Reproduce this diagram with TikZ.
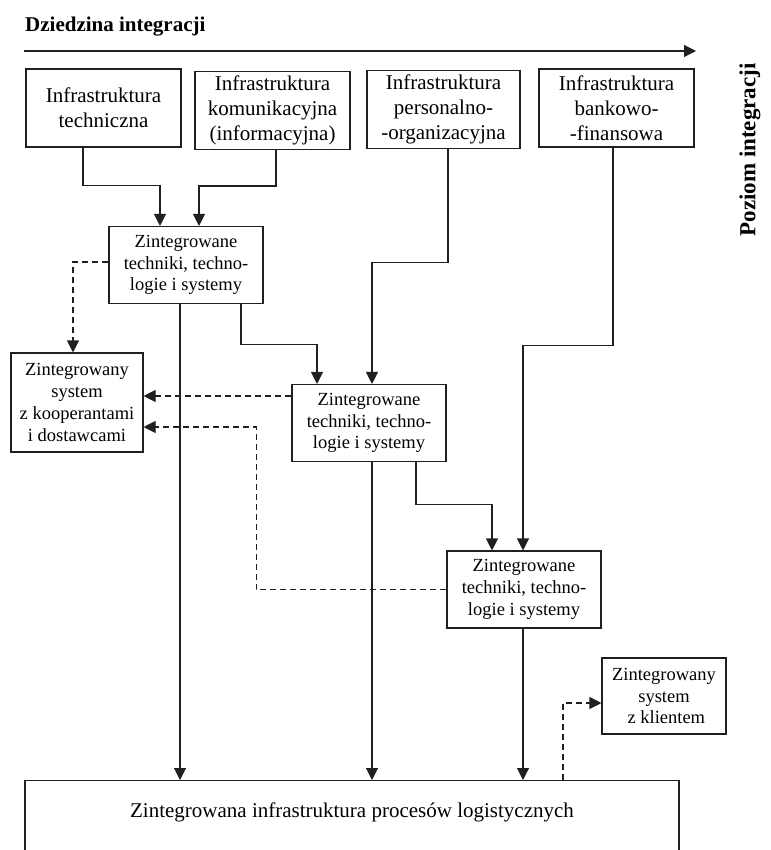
\documentclass[tikz,border=0pt]{standalone}
\usepackage{fontspec}
\setmainfont{Liberation Serif}
\usepackage{xcolor}
\definecolor{diagInk}{HTML}{231F20}
\usetikzlibrary{arrows.meta}
\tikzset{
  infraBox/.style={draw=diagInk, line width=1.1pt, align=center, inner sep=2pt,
    minimum width=155pt, minimum height=78pt, font=\fontsize{21}{25}\selectfont},
  integBox/.style={draw=diagInk, line width=1.1pt, align=center, inner sep=2pt,
    minimum width=154pt, minimum height=77pt, font=\fontsize{18.5}{21.7}\selectfont},
  flowLink/.style={draw=diagInk, line width=1.1pt, -{Triangle[width=12pt,length=12pt]}},
  sideLink/.style={flowLink, dash pattern=on 6pt off 4pt},
}

\begin{document}
\begin{tikzpicture}[x=1pt, y=-1pt]
  \useasboundingbox (0,0) rectangle (770,850);
  \clip (0,0) rectangle (770,850);
  \node[anchor=base west, inner sep=0pt, font=\bfseries\fontsize{21}{25}\selectfont] (domainLabel) at (25,32) {Dziedzina integracji};
  \coordinate (axisStart) at (24,51);
  \coordinate (axisEnd) at (696,51);
  \draw[flowLink] (axisStart) -- (axisEnd);
  \node[rotate=90, inner sep=0pt, font=\bfseries\fontsize{23}{27}\selectfont] (levelLabel) at (750,150) {Poziom integracji};

  \node[infraBox] (techInfra) at (103.5,108) {Infrastruktura\\techniczna};
  \node[infraBox] (commInfra) at (272.5,110.5) {Infrastruktura\\komunikacyjna\\(informacyjna)};
  \node[infraBox, minimum width=153pt] (persInfra) at (443.5,109.5) {Infrastruktura\\personalno-\\-organizacyjna};
  \node[infraBox] (bankInfra) at (616.5,108) {Infrastruktura\\bankowo-\\-finansowa};

  \node[integBox] (integA) at (186,265) {Zintegrowane\\techniki, techno-\\logie i systemy};
  \node[integBox] (integB) at (369,423) {Zintegrowane\\techniki, techno-\\logie i systemy};
  \node[integBox] (integC) at (524,589.5) {Zintegrowane\\techniki, techno-\\logie i systemy};
  \node[integBox, minimum width=132pt, minimum height=99pt] (coopSys) at (77,402.5) {Zintegrowany\\system\\z kooperantami\\i dostawcami};
  \node[integBox, minimum width=124pt, minimum height=76pt] (clientSys) at (664,696) {Zintegrowany\\system\\\ z klientem};
  \node[draw=diagInk, line width=1.1pt, anchor=north, minimum width=654pt, inner ysep=22pt, text height=15pt, text depth=70pt, font=\fontsize{21}{25}\selectfont] (logInfra) at (352,780) {Zintegrowana infrastruktura procesów logistycznych};

  \draw[flowLink] ([xshift=-20.5pt]techInfra.south) -- ++(0,38) -| ([xshift=-26pt]integA.north);
  \draw[flowLink] ([xshift=3.5pt]commInfra.south) -- ++(0,36) -| ([xshift=13pt]integA.north);
  \draw[flowLink] ([xshift=4.5pt]persInfra.south) -- ++(0,113) -| ([xshift=3pt]integB.north);
  \draw[flowLink] ([xshift=-3.5pt]bankInfra.south) -- ++(0,198) -| ([xshift=-1pt]integC.north);
  \draw[flowLink] ([xshift=55pt]integA.south) -- ++(0,40) -| ([xshift=-52pt]integB.north);
  \draw[flowLink] ([xshift=47pt]integB.south) -- ++(0,42) -| ([xshift=-32pt]integC.north);
  \draw[flowLink] ([xshift=-6pt]integA.south) -- ([xshift=-172pt]logInfra.north);
  \draw[flowLink] ([xshift=3pt]integB.south) -- ([xshift=20pt]logInfra.north);
  \draw[flowLink] ([xshift=-1pt]integC.south) -- ([xshift=171pt]logInfra.north);

  \draw[sideLink] ([yshift=3pt]integA.west) -| ([xshift=-4pt]coopSys.north);
  \draw[sideLink] ([yshift=27pt]integB.west) -- ([yshift=27pt]integB.west -| coopSys.east);
  \draw[sideLink] (integC.west) -- ++(-190,0) |- ([yshift=-24.5pt]coopSys.east);
  \draw[sideLink] ([xshift=211pt]logInfra.north) |- ([yshift=-7pt]clientSys.west);
\end{tikzpicture}
\end{document}
